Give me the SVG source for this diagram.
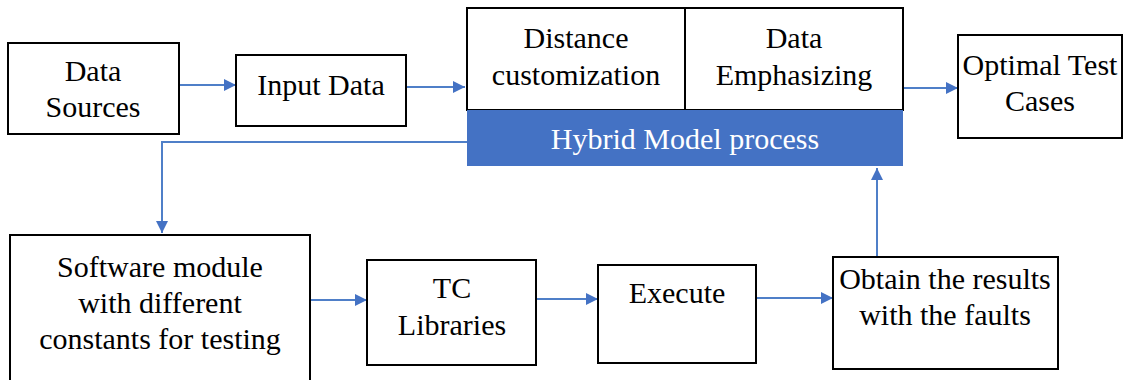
<svg xmlns="http://www.w3.org/2000/svg" width="1132" height="380" viewBox="0 0 1132 380">
  <style>
    .box { fill: #ffffff; stroke: #000000; stroke-width: 2; }
    .lbl { font-family: 'Liberation Serif', serif; font-size: 30px; fill: #000000; text-anchor: middle; }
    .wlbl { font-family: 'Liberation Serif', serif; font-size: 30px; fill: #ffffff; text-anchor: middle; }
    .conn { fill: none; stroke: #4f7fc8; stroke-width: 2; marker-end: url(#arrow); }
  </style>
  <defs>
    <marker id="arrow" viewBox="0 0 10 10" refX="10" refY="5" markerWidth="6" markerHeight="6" markerUnits="strokeWidth" orient="auto">
      <path d="M0,0 L10,5 L0,10 Z" fill="#4472c4"/>
    </marker>
  </defs>
  <rect width="1132" height="380" fill="#ffffff"/>

  <g id="connectors">
    <path class="conn" d="M179,85 L236,85"/>
    <path class="conn" d="M406,87 L465,87"/>
    <path class="conn" d="M903,88 L958,88"/>
    <path class="conn" d="M467,142 L162,142 L162,233"/>
    <path class="conn" d="M310,300 L367,300"/>
    <path class="conn" d="M536,299 L598,299"/>
    <path class="conn" d="M756,298 L833,298"/>
    <path class="conn" d="M877,257 L877,168"/>
  </g>

  <g id="data-sources">
    <rect class="box" x="8" y="43" width="171" height="91"/>
    <text class="lbl" x="93" y="81">Data</text>
    <text class="lbl" x="93" y="117">Sources</text>
  </g>

  <g id="input-data">
    <rect class="box" x="236" y="55" width="170" height="71"/>
    <text class="lbl" x="321" y="95">Input Data</text>
  </g>

  <g id="hybrid-model">
    <rect class="box" x="467" y="8" width="436" height="102"/>
    <line x1="685" y1="8" x2="685" y2="110" stroke="#000000" stroke-width="2"/>
    <rect x="467" y="110" width="436" height="56" fill="#4472c4"/>
    <text class="lbl" x="576" y="48">Distance</text>
    <text class="lbl" x="576" y="85">customization</text>
    <text class="lbl" x="794" y="48">Data</text>
    <text class="lbl" x="794" y="85">Emphasizing</text>
    <text class="wlbl" x="685" y="149">Hybrid Model process</text>
  </g>

  <g id="optimal-test-cases">
    <rect class="box" x="958" y="35" width="164" height="103"/>
    <text class="lbl" x="1040" y="75">Optimal Test</text>
    <text class="lbl" x="1040" y="111">Cases</text>
  </g>

  <g id="software-module">
    <rect class="box" x="10" y="235" width="300" height="150"/>
    <text class="lbl" x="160" y="277">Software module</text>
    <text class="lbl" x="160" y="313">with different</text>
    <text class="lbl" x="160" y="349">constants for testing</text>
  </g>

  <g id="tc-libraries">
    <rect class="box" x="367" y="260" width="169" height="105"/>
    <text class="lbl" x="452" y="298">TC</text>
    <text class="lbl" x="452" y="335">Libraries</text>
  </g>

  <g id="execute">
    <rect class="box" x="598" y="265" width="158" height="98"/>
    <text class="lbl" x="677" y="303">Execute</text>
  </g>

  <g id="obtain-results">
    <rect class="box" x="833" y="257" width="225" height="112"/>
    <text class="lbl" x="945" y="289">Obtain the results</text>
    <text class="lbl" x="945" y="325">with the faults</text>
  </g>
</svg>
